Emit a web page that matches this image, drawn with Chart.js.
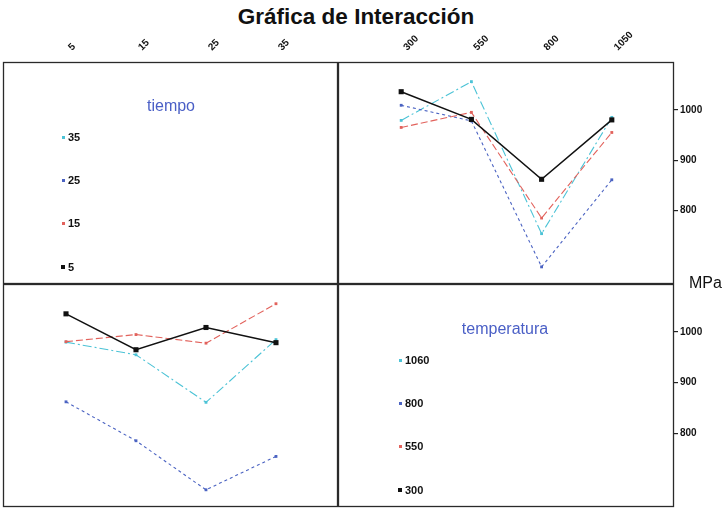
<!DOCTYPE html>
<html>
<head>
<meta charset="utf-8">
<script src="https://cdn.jsdelivr.net/npm/chart.js@4.4.1/dist/chart.umd.min.js"></script>
<style>
  body { margin: 0; background: #fff; }
  #wrap { position: relative; width: 724px; height: 508px; background: #fff; font-family: 'Liberation Sans', Arial, sans-serif; overflow: hidden; }
  canvas { position: absolute; }
  .txt { position: absolute; white-space: nowrap; }
  #titulo { left: 0; width: 712px; top: 4px; text-align: center; font-weight: bold; font-size: 22.5px; color: #111; }
  .leyTit { font-size: 16px; color: #4a5fc6; text-align: center; }
  .leyItem { font-size: 11px; font-weight: bold; color: #111; line-height: 12px; }
  .marca { position: absolute; }
</style>
</head>
<body>
<div id="wrap">
  <div id="titulo" class="txt">Gráfica de Interacción</div>
  <canvas id="cTL" width="338" height="262" style="left:0;top:22px"></canvas>
  <canvas id="cTR" width="386" height="262" style="left:338px;top:22px"></canvas>
  <canvas id="cBL" width="338" height="224" style="left:0;top:284px"></canvas>
  <canvas id="cBR" width="386" height="224" style="left:338px;top:284px"></canvas>
  <div class="txt" style="left:689px;top:274px;font-size:16px;color:#111">MPa</div>
</div>
<script>
// niveles de los factores
const tiempo = ['5', '15', '25', '35'];
const temperatura = ['300', '550', '800', '1050'];
// medias de MPa por tiempo (en cada temperatura)
const mpaT5 = [1036, 981, 862, 980];
const mpaT15 = [965, 995, 785, 955];
const mpaT25 = [1009, 978, 688, 861];
const mpaT35 = [979, 1056, 754, 985];
const yTicks = [800, 900, 1000];
// etiquetas de las leyendas (de arriba abajo)
const leyendaTiempo = ['35', '25', '15', '5'];
const leyendaTemp = ['1060', '800', '550', '300'];

const yMin = 654, yMax = 1095;
const xMin = 0.1, xMax = 4.886;
const font = "'Liberation Sans', Arial, sans-serif";

// estilos de linea: negro, rojo, azul, cian
const estilos = [
    { color: '#111111', dash: [], width: 1.5, r: 3.6 },
    { color: '#e2625c', dash: [7, 3], width: 1.1, r: 2 },
    { color: '#4b63c2', dash: [3, 3], width: 1.1, r: 2 },
    { color: '#4cc3d6', dash: [9, 3, 2, 3], width: 1.1, r: 2 }
];

// marco de cada panel
const panelBox = {
    id: 'panelBox',
    afterDraw(chart) {
        const { ctx, chartArea: a } = chart;
        ctx.save();
        ctx.strokeStyle = '#2a2a2a';
        ctx.lineWidth = 1.3;
        ctx.strokeRect(a.left + 0.5, a.top + 0.5, a.right - a.left - 1, a.bottom - a.top - 1);
        ctx.restore();
    }
};

// etiquetas giradas encima del panel
const topLabels = {
    id: 'topLabels',
    afterDraw(chart, args, opts) {
        if (!opts.labels) return;
        const { ctx, chartArea: a, scales } = chart;
        ctx.save();
        ctx.fillStyle = '#111';
        ctx.font = 'bold 10px ' + font;
        ctx.textAlign = 'left';
        ctx.textBaseline = 'middle';
        opts.labels.forEach((lab, i) => {
            const x = scales.x.getPixelForValue(i + 1);
            ctx.save();
            ctx.translate(x + 4, a.top - 13);
            ctx.rotate(-Math.PI / 4);
            ctx.fillText(lab, 0, 0);
            ctx.restore();
        });
        ctx.restore();
    }
};

function makeDatasets(series) {
    return series.map((vals, i) => ({
        data: vals.map((v, k) => ({ x: k + 1, y: v })),
        borderColor: estilos[i].color,
        backgroundColor: estilos[i].color,
        borderDash: estilos[i].dash,
        borderWidth: estilos[i].width,
        pointStyle: 'rect',
        pointRadius: estilos[i].r,
        pointBorderWidth: 0,
        tension: 0
    }));
}

function yScale(show) {
    return {
        type: 'linear', min: yMin, max: yMax, position: 'right',
        display: show,
        grid: { drawOnChartArea: false, drawTicks: true, tickLength: 4, color: '#222', lineWidth: 1.2 },
        border: { display: false },
        afterBuildTicks: s => { s.ticks = yTicks.map(v => ({ value: v })); },
        afterFit: s => {
            if (show) s.width = 50;
            s.paddingTop = 0; s.paddingBottom = 0;
        },
        ticks: {
            padding: 2, color: '#111', font: { family: font, size: 10, weight: 'bold' },
            callback: v => String(v)
        }
    };
}

function makeChart(id, datasets, xLabels, showY, padding) {
    return new Chart(document.getElementById(id), {
        type: 'line',
        data: { datasets: datasets },
        options: {
            responsive: false,
            animation: false,
            layout: { padding: padding, autoPadding: false },
            plugins: {
                legend: { display: false },
                tooltip: { enabled: false },
                topLabels: { labels: xLabels }
            },
            scales: {
                x: { type: 'linear', min: xMin, max: xMax, display: false },
                y: yScale(showY)
            }
        },
        plugins: [panelBox, topLabels]
    });
}

// panel superior derecho: x = temperatura, lineas = tiempo
makeChart('cTR', makeDatasets([mpaT5, mpaT15, mpaT25, mpaT35]), temperatura, true, { left: 0, right: 0, top: 40, bottom: 0 });
// panel inferior izquierdo: x = tiempo, lineas = temperatura
const porTemp = temperatura.map((t, j) => [mpaT5[j], mpaT15[j], mpaT25[j], mpaT35[j]]);
makeChart('cBL', makeDatasets(porTemp), null, false, { left: 3, right: 0, top: 0, bottom: 1 });
// paneles de leyenda
makeChart('cTL', [], tiempo, false, { left: 3, right: 0, top: 40, bottom: 0 });
makeChart('cBR', [], null, true, { left: 0, right: 0, top: 0, bottom: 1 });

// leyendas en texto
const wrap = document.getElementById('wrap');
function leyenda(titulo, etiquetas, cx, ty, mx, ys) {
    const t = document.createElement('div');
    t.className = 'txt leyTit';
    t.textContent = titulo;
    t.style.left = (cx - 100) + 'px';
    t.style.width = '200px';
    t.style.top = ty + 'px';
    wrap.appendChild(t);
    etiquetas.forEach((lab, i) => {
        const est = estilos[3 - i];
        const m = document.createElement('div');
        m.className = 'marca';
        const s = i === 3 ? 4 : 3;
        m.style.width = s + 'px';
        m.style.height = s + 'px';
        m.style.left = (mx - s / 2) + 'px';
        m.style.top = (ys[i] - s / 2) + 'px';
        m.style.background = est.color;
        wrap.appendChild(m);
        const d = document.createElement('div');
        d.className = 'txt leyItem';
        d.textContent = lab;
        d.style.left = (mx + 5) + 'px';
        d.style.top = (ys[i] - 6) + 'px';
        wrap.appendChild(d);
    });
}
leyenda('tiempo', leyendaTiempo, 171, 97, 63, [137, 180, 223, 267]);
leyenda('temperatura', leyendaTemp, 505, 320, 400, [360, 403, 446, 490]);
</script>
</body>
</html>
